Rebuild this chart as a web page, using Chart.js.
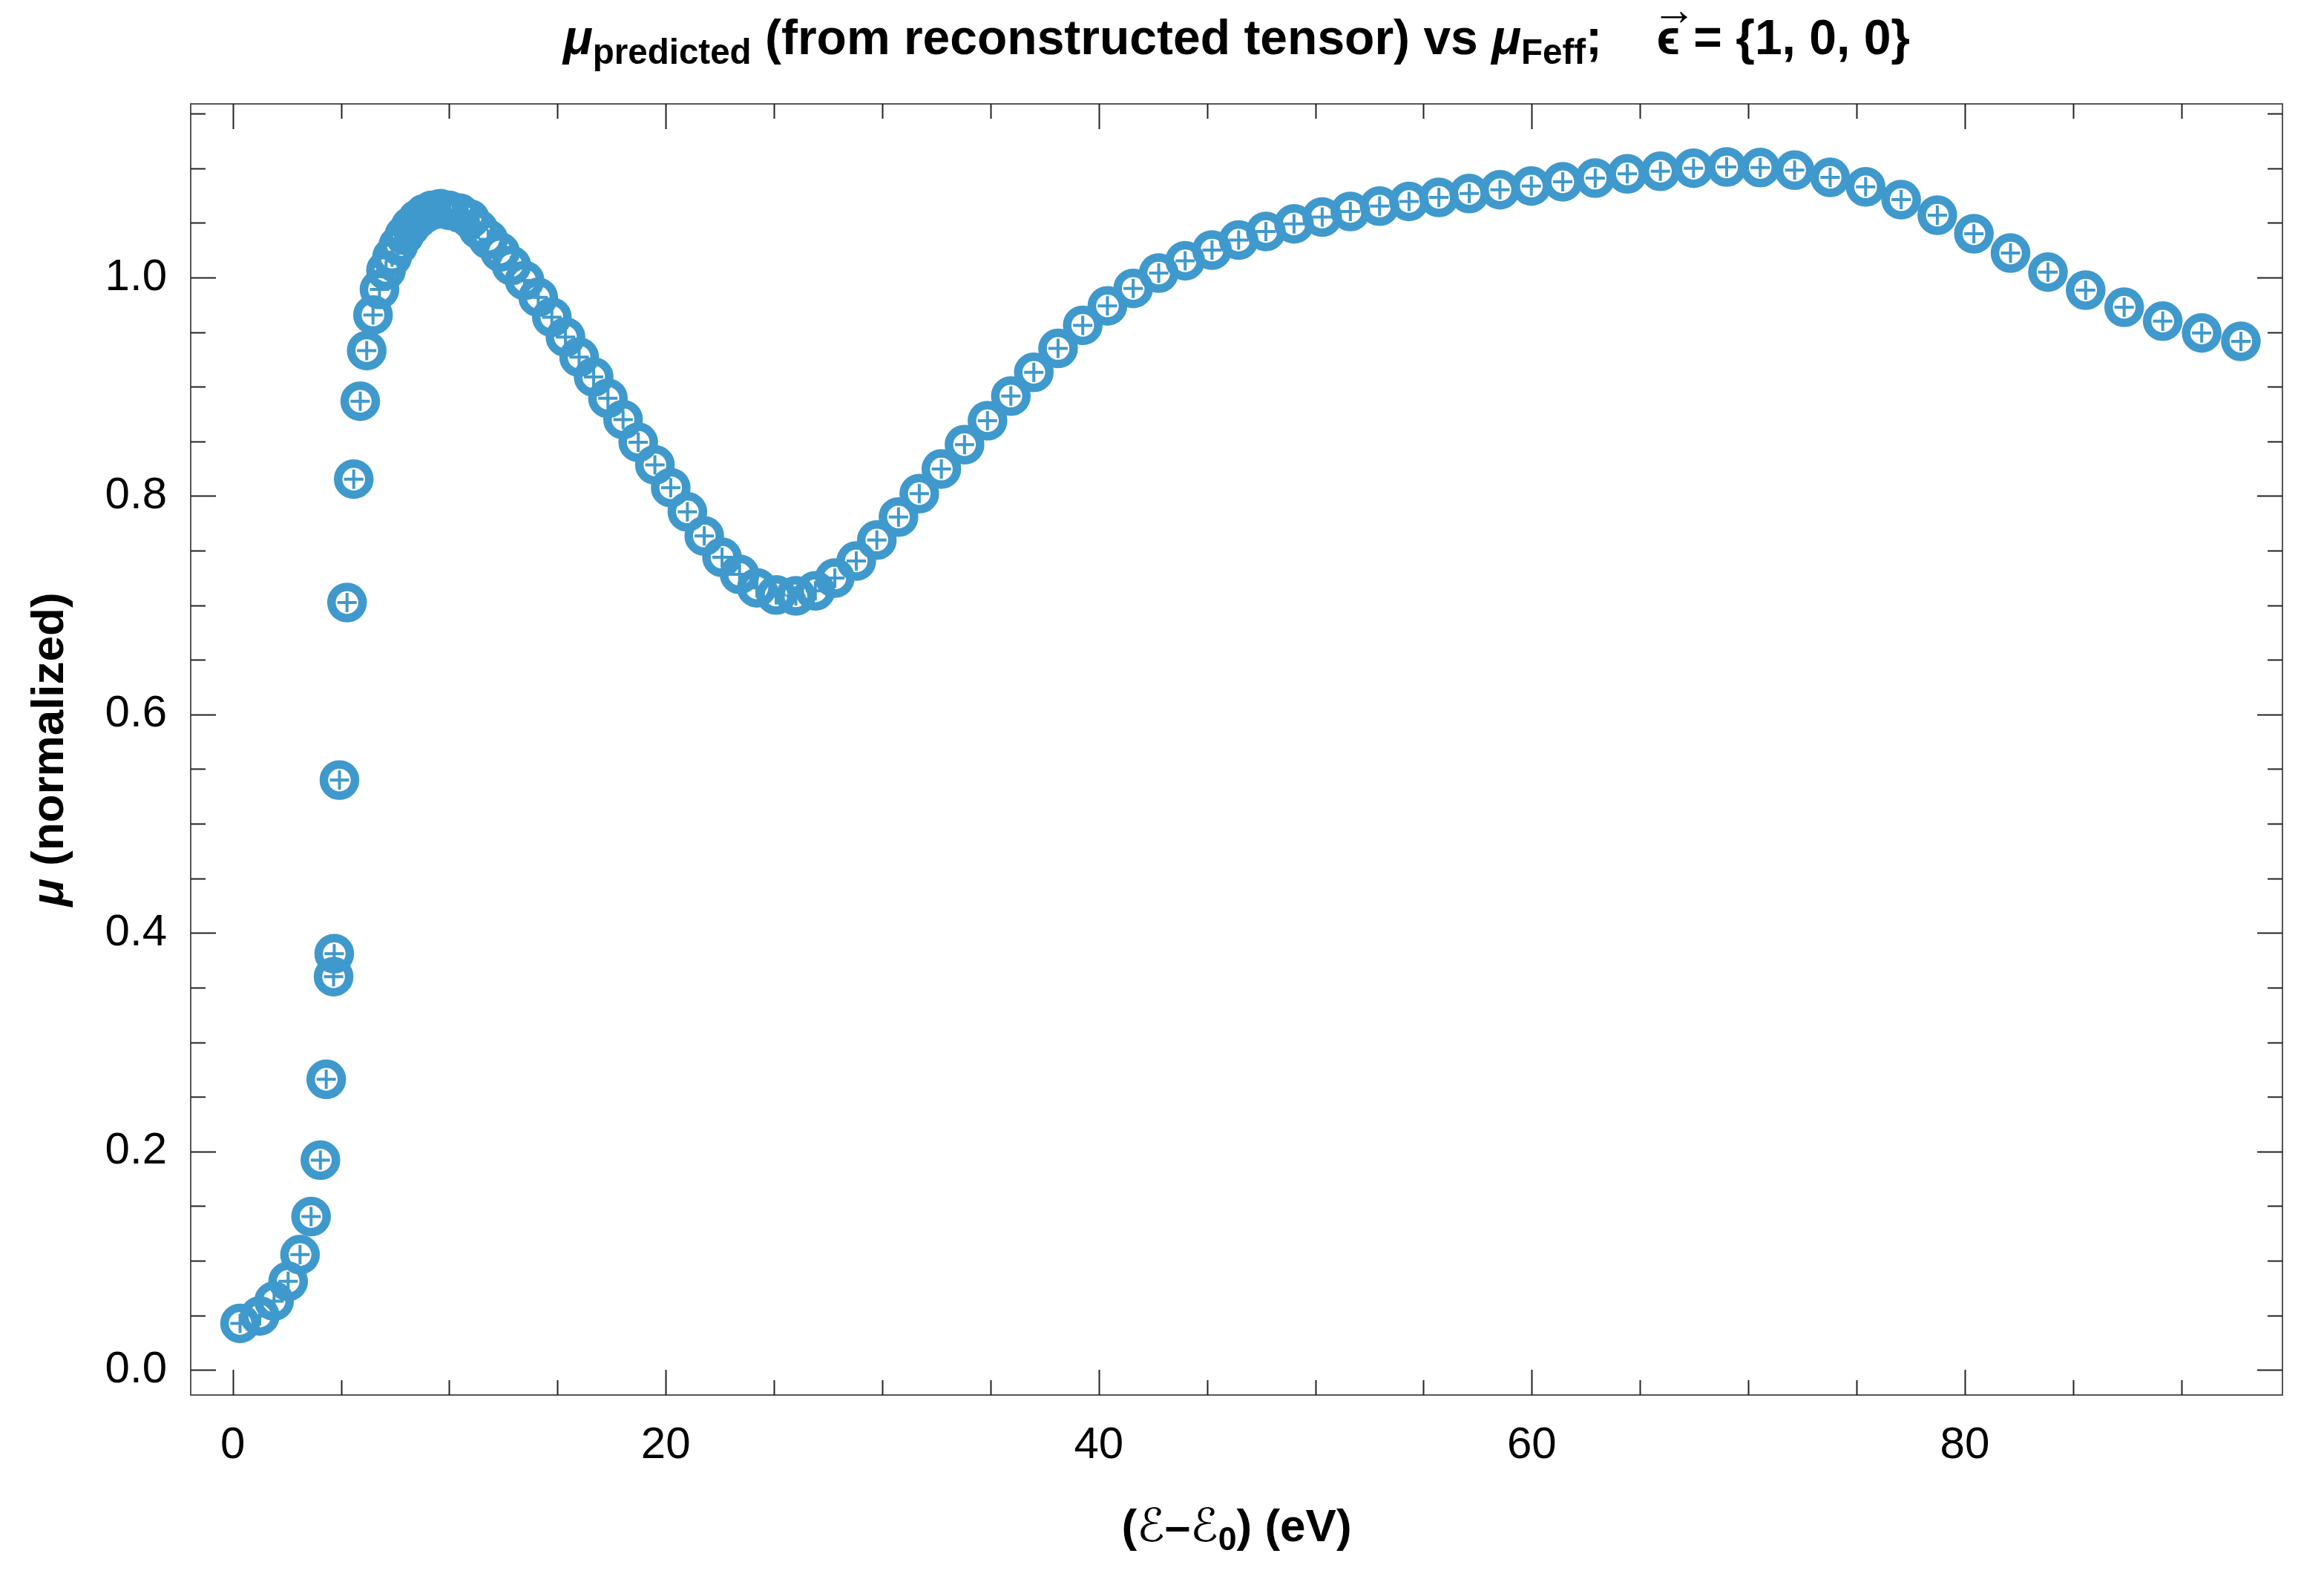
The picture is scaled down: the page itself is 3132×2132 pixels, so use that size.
<!DOCTYPE html>
<html>
<head>
<meta charset="utf-8">
<script src="https://cdn.jsdelivr.net/npm/chart.js@4.4.1/dist/chart.umd.min.js"></script>
<style>
  body { margin: 0; background: #fff; }
  #wrap { position: relative; width: 3132px; height: 2132px; background: #fff; }
  #canvas_mu { position: absolute; left: 0; top: 0; }
  .lbl { position: absolute; font-family: "Liberation Sans", Arial, sans-serif; font-weight: bold;
         color: #000; text-align: center; white-space: nowrap; }
  .lbl sub { font-size: 0.72em; vertical-align: -0.28em; line-height: 0; }
  .vec { position: relative; display: inline-block; }
  .vec .arr { position: absolute; left: -0.1em; right: -0.1em; top: -0.62em; font-size: 0.9em; text-align: center; }
  .scr { font-family: "DejaVu Sans", sans-serif; font-weight: normal; }
</style>
</head>
<body>
<div id="wrap">
  <canvas id="canvas_mu" width="3132" height="2132"></canvas>
  <div class="lbl" id="title" style="left:257px; width:2819px; top:17px; font-size:66px; line-height:66px;">
    <i>μ</i><sub>predicted</sub> (from reconstructed tensor) vs <i>μ</i><sub>Feff</sub>;&nbsp;&nbsp;&nbsp;
    <span class="vec">ϵ<span class="arr">→</span></span> = {1, 0, 0}
  </div>
  <div class="lbl" id="xlabel" style="left:257px; width:2819px; top:2025px; font-size:62px; line-height:62px;">
    (<span class="scr">ℰ</span>–<span class="scr">ℰ</span><sub>0</sub>) (eV)
  </div>
  <div class="lbl" id="ylabel" style="left:-806px; top:979px; width:1740px; font-size:62px; line-height:62px; transform:rotate(-90deg);">
    <i>μ</i> (normalized)
  </div>
</div>
<script>
// energy grid (E - E0, eV) and normalized mu
var energies = [
  0.34, 1.25, 1.91, 2.56, 3.11, 3.62, 4.05, 4.32, 4.66, 4.69, 4.93, 5.28, 5.59, 5.89, 6.19, 6.48, 6.78, 7.08,
  7.36, 7.65, 7.93, 8.22, 8.54, 8.85, 9.19, 9.59, 9.99, 10.48, 10.96, 11.35, 11.8, 12.35, 12.87,
  13.48, 14.11, 14.74, 15.37, 16.00, 16.67, 17.33, 18.03, 18.73, 19.50, 20.23, 21.00, 21.78, 22.60, 23.41, 24.21, 25.10, 26.01, 26.91, 27.81, 28.80, 29.75,
  30.75, 31.71, 32.73, 33.80, 34.86, 35.94, 37.00, 38.12, 39.26, 40.40, 41.59, 42.77, 43.99, 45.23, 46.46, 47.72, 49.02, 50.32, 51.62,
  52.97, 54.33, 55.71, 57.11, 58.53, 59.98, 61.43, 62.93, 64.41, 65.94, 67.47, 69.00, 70.55, 72.14, 73.78, 75.42, 77.06, 78.73, 80.42, 82.11, 83.84, 85.58, 87.36, 89.14, 90.94, 92.75
];
var muPredicted = [
  0.0426, 0.0494, 0.0630, 0.0811, 0.1055, 0.1404, 0.192, 0.266, 0.360, 0.381, 0.540, 0.7025, 0.8155, 0.8868, 0.9332, 0.9658, 0.9891, 1.0066,
  1.0187, 1.0294, 1.0388, 1.0469, 1.0536, 1.0584, 1.0616, 1.0630, 1.0616, 1.0590, 1.0536, 1.0442, 1.0350, 1.0234, 1.0110,
  0.9974, 0.9819, 0.9637, 0.9455, 0.9272, 0.9090, 0.8895, 0.8700, 0.8492, 0.8285, 0.8077, 0.7855, 0.7634, 0.7439, 0.7283, 0.7160, 0.7094, 0.7086, 0.7132, 0.7249, 0.7405, 0.7597,
  0.7808, 0.8022, 0.8247, 0.8470, 0.8689, 0.8915, 0.9132, 0.9351, 0.9563, 0.9741, 0.9901, 1.0041, 1.0154, 1.0252, 1.0343, 1.0422, 1.0492, 1.0554, 1.0605,
  1.0654, 1.0697, 1.0734, 1.0770, 1.0804, 1.0838, 1.0877, 1.0910, 1.0949, 1.0973, 1.1001, 1.1012, 1.1007, 1.0983, 1.0917, 1.0831, 1.0713, 1.0571, 1.0401, 1.0224, 1.0050, 0.9885, 0.9728, 0.9601, 0.9493, 0.9416
];
// Feff points sit right on top of the predicted ones
var muFeff = [
  0.0426, 0.0494, 0.0630, 0.0811, 0.1055, 0.1404, 0.192, 0.266, 0.360, 0.381, 0.540, 0.7025, 0.8155, 0.8868, 0.9332, 0.9658, 0.9891, 1.0066,
  1.0187, 1.0294, 1.0388, 1.0469, 1.0536, 1.0584, 1.0616, 1.0630, 1.0616, 1.0590, 1.0536, 1.0442, 1.0350, 1.0234, 1.0110,
  0.9974, 0.9819, 0.9637, 0.9455, 0.9272, 0.9090, 0.8895, 0.8700, 0.8492, 0.8285, 0.8077, 0.7855, 0.7634, 0.7439, 0.7283, 0.7160, 0.7094, 0.7086, 0.7132, 0.7249, 0.7405, 0.7597,
  0.7808, 0.8022, 0.8247, 0.8470, 0.8689, 0.8915, 0.9132, 0.9351, 0.9563, 0.9741, 0.9901, 1.0041, 1.0154, 1.0252, 1.0343, 1.0422, 1.0492, 1.0554, 1.0605,
  1.0654, 1.0697, 1.0734, 1.0770, 1.0804, 1.0838, 1.0877, 1.0910, 1.0949, 1.0973, 1.1001, 1.1012, 1.1007, 1.0983, 1.0917, 1.0831, 1.0713, 1.0571, 1.0401, 1.0224, 1.0050, 0.9885, 0.9728, 0.9601, 0.9493, 0.9416
];
var xTickLabels = [0, 20, 40, 60, 80];
var yTickLabels = [0.0, 0.2, 0.4, 0.6, 0.8, 1.0];

var pointColor = 'rgb(63,153,204)';

function toPoints(xs, ys) {
  var out = [];
  for (var i in xs) {
    out.push({x: xs[i], y: ys[i]});
  }
  return out;
}

function isMultiple(v, step) {
  var r = v / step;
  return Math.abs(r - Math.round(r)) < 1e-6;
}

// Mathematica style frame: ticks on all four sides, pointing inward
var framePlugin = {
  id: 'frame',
  afterDraw: function(chart) {
    var ctx = chart.ctx;
    var a = chart.chartArea;
    var xs = chart.scales.x, ys = chart.scales.y;
    ctx.save();
    ctx.lineWidth = 2;
    ctx.strokeStyle = '#555';
    ctx.strokeRect(a.left, a.top, a.right - a.left, a.bottom - a.top);
    ctx.strokeStyle = '#222';
    ctx.beginPath();
    for (var k = 0; k <= 18; k++) {
      var v = k * 5;
      if (v < xs.min || v > xs.max) continue;
      var px = Math.round(xs.getPixelForValue(v)) + 0.5;
      var len = isMultiple(v, 20) ? 34 : 20;
      ctx.moveTo(px, a.bottom); ctx.lineTo(px, a.bottom - len);
      ctx.moveTo(px, a.top); ctx.lineTo(px, a.top + len);
    }
    for (var j = 0; j <= 23; j++) {
      var w = j * 0.05;
      if (w < ys.min || w > ys.max) continue;
      var py = Math.round(ys.getPixelForValue(w)) + 0.5;
      var len2 = isMultiple(w, 0.2) ? 34 : 20;
      ctx.moveTo(a.left, py); ctx.lineTo(a.left + len2, py);
      ctx.moveTo(a.right, py); ctx.lineTo(a.right - len2, py);
    }
    ctx.stroke();
    ctx.restore();
  }
};

var tickFont = {family: '"Liberation Sans", Arial, sans-serif', size: 60};

var configMu = {
  type: 'scatter',
  data: {
    datasets: [{
      label: 'mu Feff',
      data: toPoints(energies, muFeff),
      pointStyle: 'cross',
      pointRadius: 13,
      pointBorderWidth: 4,
      borderColor: pointColor,
      backgroundColor: pointColor
    }, {
      label: 'mu predicted',
      data: toPoints(energies, muPredicted),
      pointStyle: 'circle',
      pointRadius: 21,
      pointBorderWidth: 11.5,
      borderColor: pointColor,
      backgroundColor: 'rgba(0,0,0,0)'
    }]
  },
  options: {
    responsive: false,
    animation: false,
    devicePixelRatio: 1,
    events: [],
    layout: {padding: {left: 0, right: 56, top: 140, bottom: 0}},
    plugins: {
      legend: {display: false},
      title: {display: false},
      tooltip: {enabled: false}
    },
    scales: {
      x: {
        type: 'linear',
        min: -1.94,
        max: 94.67,
        grid: {display: false},
        border: {display: false},
        ticks: {
          stepSize: 20,
          includeBounds: false,
          autoSkip: false,
          maxRotation: 0,
          padding: 24,
          color: '#000',
          font: tickFont,
          callback: function(v) {
            return xTickLabels.indexOf(v) >= 0 ? String(v) : '';
          }
        },
        afterFit: function(scale) { scale.height = 252; }
      },
      y: {
        type: 'linear',
        min: -0.023,
        max: 1.159,
        grid: {display: false},
        border: {display: false},
        ticks: {
          stepSize: 0.2,
          includeBounds: false,
          autoSkip: false,
          padding: 24,
          color: '#000',
          font: tickFont,
          callback: function(v) {
            for (var i in yTickLabels) {
              if (Math.abs(yTickLabels[i] - v) < 1e-6) return yTickLabels[i].toFixed(1);
            }
            return '';
          }
        },
        afterFit: function(scale) { scale.width = 257; }
      }
    }
  },
  plugins: [framePlugin]
};

var ctx_mu = document.getElementById('canvas_mu').getContext('2d');
new Chart(ctx_mu, configMu);
</script>
</body>
</html>
